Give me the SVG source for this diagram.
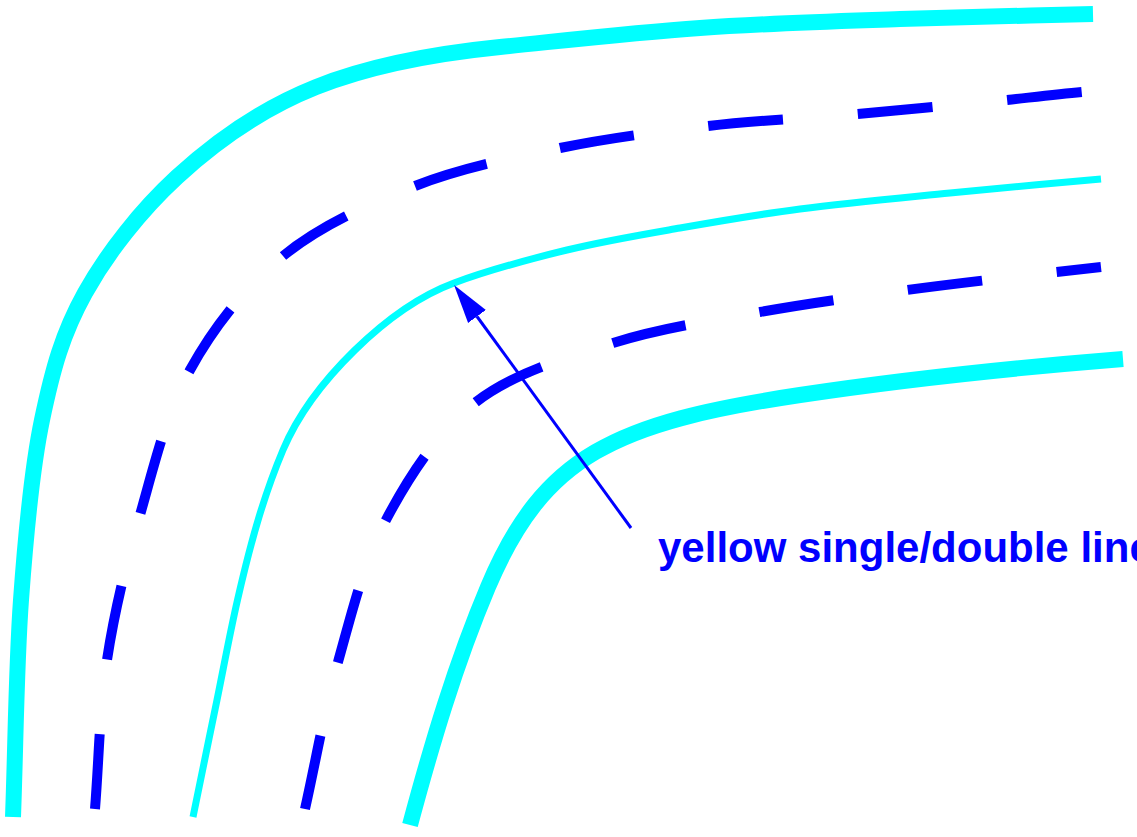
<svg xmlns="http://www.w3.org/2000/svg" width="1137" height="837" viewBox="0 0 1137 837">
<style>
.edge{fill:none;stroke:#00ffff;stroke-width:16;stroke-linecap:butt}
.thin{fill:none;stroke:#00ffff;stroke-width:7;stroke-linecap:butt}
.dash{fill:none;stroke:#0000ff;stroke-width:10;stroke-linecap:butt;stroke-dasharray:75 75}
.lead{fill:none;stroke:#0000ff;stroke-width:3}
.label{font-family:"Liberation Sans",Arial,Helvetica,sans-serif;font-weight:bold;font-size:42px;fill:#0000ff}
</style>
<defs>
<marker id="arrow" markerUnits="userSpaceOnUse" markerWidth="40" markerHeight="24" viewBox="0 0 40 24" refX="0" refY="12" orient="auto">
<path d="M0,1 L39,12 L0,23 z" fill="#0000ff"/>
</marker>
</defs>
<rect width="1137" height="837" fill="#ffffff"/>
<g id="outer-edge">
<path class="edge" d="M13,817 C15.7,744.7 16.2,666.2 21,600 C25.8,533.8 31.3,471.2 42,420 C52.7,368.8 62.5,333.5 85,293 C107.5,252.5 141.2,210 177,177 C265.2,95.6 351.5,62 500,47 C566.6,40.3 633.2,32.7 700,28 C766.7,23.2 834.5,21.3 900,19 C965.5,16.7 1028.7,15.7 1093,14"/>
</g>
<g id="outer-centre-line">
<path class="dash" d="M95,809 C99,759.3 99.5,709 107,660 C114.5,611 126.2,563.3 140,515 C153.8,466.7 166.2,413.2 190,370 C213.8,326.8 245.5,286.7 283,256 C320.5,225.3 368.8,204 415,186 C461.2,168 511.2,158 560,148 C608.8,138 658.5,131.7 708,126 C757.5,120.3 807.2,118.3 857,114 C906.8,109.7 957.5,104.2 1007,100 C1032,97.3 1057,94.4 1082,92"/>
</g>
<g id="middle-line">
<path class="thin" d="M193,817 C200.8,778 209,739 217,700 C223.8,666.7 229.9,633.1 237.5,600 C243.9,572.1 250.7,544.4 259,517 C265.9,494.3 273.8,471.8 283,450 C311.5,382.6 388.4,307.4 454,283 C490.7,269.3 528.9,259.3 567,250 C604.3,240.9 642.2,234.6 680,228 C719.9,221 759.8,214.2 800,209 C849.9,202.5 900,198 950,193 C1000.2,188 1050.7,183.6 1101,179"/>
</g>
<g id="inner-centre-line">
<path class="dash" d="M305,809 C316,760 324.3,710.5 338,662 C351.7,613.5 364,561.3 387,518 C410,474.7 438.3,431.2 476,402 C513.7,372.8 565.7,358 613,343 C660.3,328 711,320.8 760,312 C809,303.2 857.7,296.7 907,290 C956.3,283.3 1006.4,277.9 1056,272 C1071,270.2 1086,268.6 1101,267"/>
</g>
<g id="inner-edge">
<path class="edge" d="M410,825 C431.7,744.3 455.5,663.9 488,587 C543.7,455.2 615,422.7 800,395 C906.5,379.1 1015.6,367.6 1123,359"/>
</g>
<g id="connectors">
<path class="lead" d="M631,528 L477,316.5" marker-end="url(#arrow)"/>
</g>
<g id="label">
<text class="label" x="658" y="562">yellow single/double line</text>
</g>
</svg>
